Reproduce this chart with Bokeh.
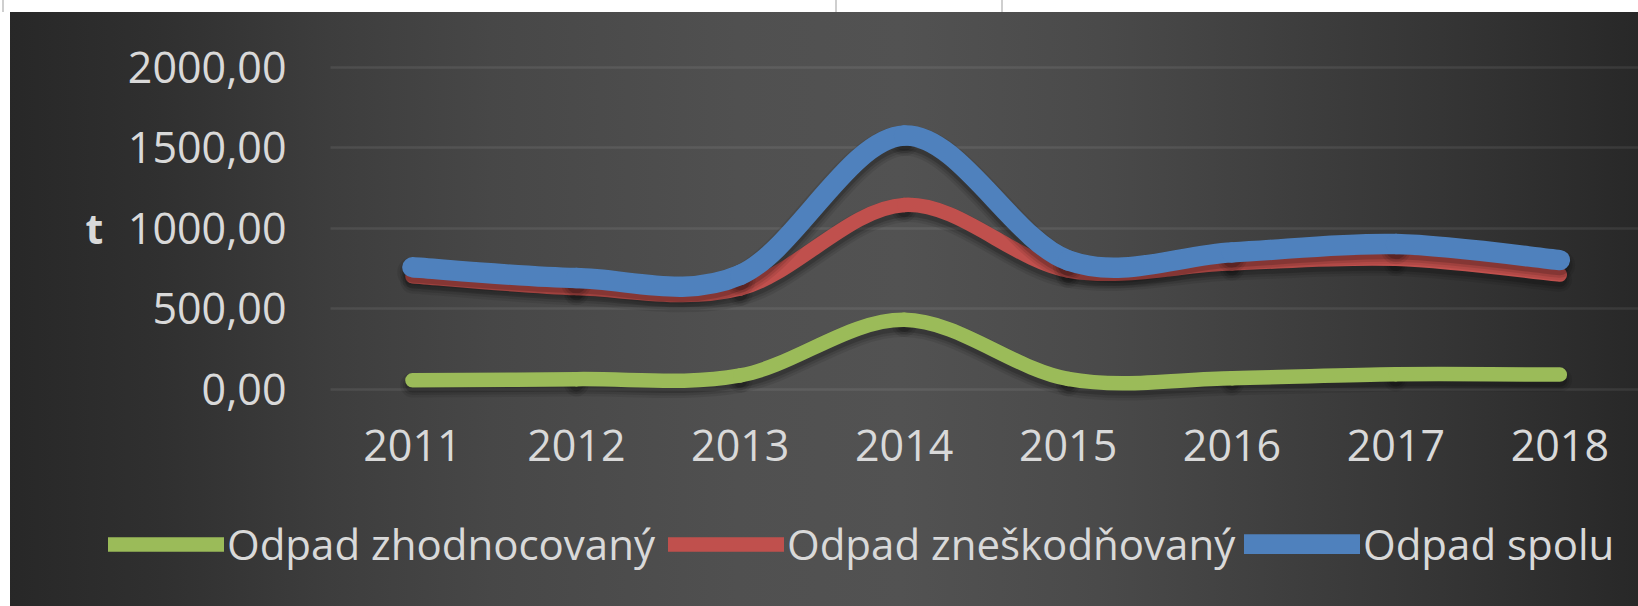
import numpy as np
from bokeh.plotting import figure
from bokeh.models import Range1d, FixedTicker, Legend, LegendItem, Label
from bokeh.embed import file_html
from bokeh.resources import INLINE

# ---------------- data ----------------
years = ["2011", "2012", "2013", "2014", "2015", "2016", "2017", "2018"]
zhodnocovany = [55, 62, 85, 431, 63, 68, 92, 90]
zneskodnovany = [702, 628, 625, 1145, 737, 782, 810, 712]
spolu = [757, 690, 710, 1576, 800, 850, 902, 802]
series_names = ["Odpad zhodnocovaný", "Odpad zneškodňovaný", "Odpad spolu"]
y_ticks = [0, 500, 1000, 1500, 2000]
y_tick_labels = ["0,00", "500,00", "1000,00", "1500,00", "2000,00"]
y_axis_title = "t"

colors = ["#9BBB59", "#C0504D", "#4F81BD"]
widths = [14.5, 14.5, 20.5]
FONT = "Open Sans"
TXT = "#D9D9D9"


def smooth_segments(vals):
    """Excel-like smoothed line as cubic Bezier segments (control points from neighbours)."""
    x = np.arange(len(vals), dtype=float)
    y = np.asarray(vals, dtype=float)
    n = len(y)
    xp = np.concatenate([[x[0]], x, [x[-1]]])
    yp = np.concatenate([[y[0]], y, [y[-1]]])
    return dict(
        x0=x[:-1], y0=y[:-1], x1=x[1:], y1=y[1:],
        cx0=x[:-1] + (xp[2:n + 1] - xp[0:n - 1]) / 6.0,
        cy0=y[:-1] + (yp[2:n + 1] - yp[0:n - 1]) / 6.0,
        cx1=x[1:] - (xp[3:n + 2] - xp[1:n]) / 6.0,
        cy1=y[1:] - (yp[3:n + 2] - yp[1:n]) / 6.0,
    )


# ---------------- geometry (pixels) ----------------
W, H = 1638, 606
PLOT_L, PLOT_R = 330.0, 1638.0        # plot-area left / right
Y0_PX, Y2000_PX = 388.6, 66.9         # pixel rows of 0 and 2000
x_lo, x_hi = -0.5, len(years) - 0.52  # category band edges
ux = (x_hi - x_lo) / (PLOT_R - PLOT_L)            # x units per pixel
uy = (y_ticks[-1] - y_ticks[0]) / (Y0_PX - Y2000_PX)  # y units per pixel
xr = Range1d(x_lo - PLOT_L * ux, x_hi + (W - PLOT_R) * ux)
yr = Range1d(y_ticks[0] - (H - Y0_PX) * uy, y_ticks[-1] + Y2000_PX * uy)

p = figure(width=W, height=H, x_range=xr, y_range=yr,
           output_backend="svg", toolbar_location=None,
           min_border_left=0, min_border_right=0,
           min_border_top=0, min_border_bottom=0)

# shifted range used only to drop shadows a few pixels below each line
SH = 5 * uy
p.extra_y_ranges = {"shadow": Range1d(yr.start + SH, yr.end + SH)}

bg = ("linear-gradient(#cfcfcf,#cfcfcf) 2px 0/2px 12px no-repeat,"
      "linear-gradient(#cfcfcf,#cfcfcf) 835px 0/2px 12px no-repeat,"
      "linear-gradient(#cfcfcf,#cfcfcf) 1001px 0/2px 12px no-repeat,"
      "linear-gradient(#ffffff,#ffffff) 0 0/100% 12px no-repeat,"
      "linear-gradient(#ffffff,#ffffff) 0 0/10px 100% no-repeat,"
      "linear-gradient(90deg, #272727 0%, #303030 10%, #3d3d3d 20%, #474747 30%,"
      " #505050 45%, #525252 55%, #4a4a4a 67%, #3e3e3e 79%, #353535 88%, #282828 100%)")
p.styles = {"background": bg}
p.background_fill_alpha = 0
p.border_fill_alpha = 0
p.outline_line_color = None

# axes (drawn inside the full-size plot area at fixed positions)
p.xaxis.ticker = FixedTicker(ticks=list(range(len(years))))
p.xaxis.major_label_overrides = {i: yr_ for i, yr_ in enumerate(years)}
p.xaxis.fixed_location = y_ticks[0]
p.xaxis.bounds = (x_lo, x_hi)
p.yaxis.ticker = FixedTicker(ticks=y_ticks)
p.yaxis.major_label_overrides = {t: l for t, l in zip(y_ticks, y_tick_labels)}
p.yaxis.fixed_location = x_lo
p.yaxis.bounds = (y_ticks[0], y_ticks[-1])
for ax in (p.xaxis, p.yaxis):
    ax.axis_line_color = None
    ax.major_tick_line_color = None
    ax.minor_tick_line_color = None
    ax.major_label_text_font = FONT
    ax.major_label_text_font_size = "43px"
    ax.major_label_text_color = TXT
p.xaxis.major_label_standoff = 35
p.yaxis.major_label_standoff = 38

p.xgrid.grid_line_color = None
p.ygrid.ticker = FixedTicker(ticks=y_ticks)
p.ygrid.grid_line_color = "#ffffff"
p.ygrid.grid_line_alpha = 0.08
p.ygrid.grid_line_width = 2.5
if "cross_bounds" in p.ygrid[0].properties():
    p.ygrid.cross_bounds = (x_lo, x_hi)

# series
renderers = []
for vals, col, w in zip([zhodnocovany, zneskodnovany, spolu], colors, widths):
    seg = smooth_segments(vals)
    for extra, alpha in [(10, 0.08), (5, 0.10), (0, 0.16)]:
        p.bezier(line_color="black", line_alpha=alpha, line_width=w + extra,
                 line_cap="round", y_range_name="shadow", **seg)
    r = p.bezier(line_color=col, line_width=w, line_cap="round", **seg)
    renderers.append(r)

# legends (one per item so each sits where the original places it)
legend_x = [108, 668, 1244]
for name, r, lx in zip(series_names, renderers, legend_x):
    lg = Legend(items=[LegendItem(label=name, renderers=[r])],
                location=(lx, 34), orientation="horizontal",
                glyph_width=116, glyph_height=20, label_standoff=3,
                padding=0, margin=0, spacing=0,
                label_text_font=FONT, label_text_font_size="42px",
                label_text_color=TXT,
                background_fill_alpha=0, border_line_color=None)
    p.add_layout(lg)

p.add_layout(Label(x=x_lo - (PLOT_L - 94) * ux, y=(y_ticks[0] + y_ticks[-1]) / 2,
                   text=y_axis_title, text_font=FONT,
                   text_font_size="41px", text_font_style="bold",
                   text_color=TXT, text_align="center", text_baseline="middle"))

open("out.html", "w").write(file_html(p, INLINE))
